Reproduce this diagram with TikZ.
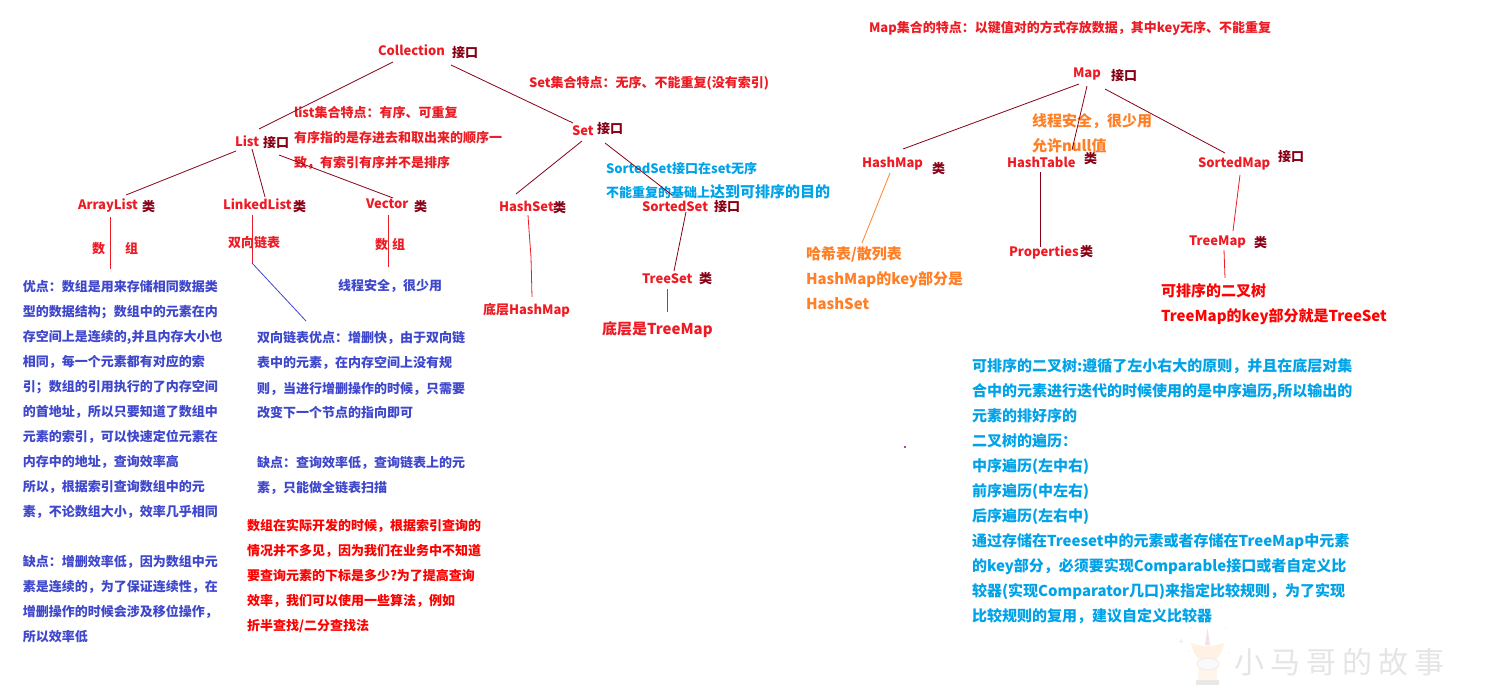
\documentclass[tikz,border=0pt]{standalone}
\usepackage{fontspec}
\setmainfont{Noto Sans CJK SC}
\definecolor{pred}{HTML}{ED1C24}
\definecolor{pure}{HTML}{FF0000}
\definecolor{pdark}{HTML}{880015}
\definecolor{porange}{HTML}{FF7F27}
\definecolor{pblue}{HTML}{3F48CC}
\definecolor{pcyan}{HTML}{00A2E8}
\definecolor{ppurple}{HTML}{A349A4}
\newcommand\fr{\rule{0pt}{15pt}}
\tikzset{
  every node/.style={inner sep=0pt,outer sep=0pt},
  lab/.style={anchor=base west,text=pred,font=\fontsize{13}{15}\selectfont\bfseries},
  kind/.style={anchor=west,text=pdark,font=\fontsize{13}{15}\selectfont\bfseries},
  note/.style={anchor=north west,align=left,font=\fontsize{13}{25}\selectfont\bfseries},
  bignote/.style={anchor=north west,align=left,font=\fontsize{15}{25}\selectfont\bfseries},
  oneline/.style={anchor=base west,font=\fontsize{13}{25}\selectfont\bfseries},
  thin1/.style={line width=0.8pt},
  dk/.style={thin1,draw=pdark},
  rd/.style={thin1,draw=pred},
  og/.style={thin1,draw=porange},
  bl/.style={thin1,draw=pblue}
}
\begin{document}
\begin{tikzpicture}[x=1pt,y=-1pt]
\useasboundingbox (0,0) rectangle (1508,700);
\fill[white] (0,0) rectangle (1508,700);

% main labels
\node[lab] (coll) at (378,56) {Collection};
\node[kind] (collk) at (452,52.5) {接口};
\node[lab] (list) at (235,147) {List};
\node[kind] (listk) at (263,142.5) {接口};
\node[lab] (alist) at (78,210) {ArrayList};
\node[kind] (alistk) at (142,206.5) {类};
\node[lab] (llist) at (223,210) {LinkedList};
\node[kind] (llistk) at (293,206.5) {类};
\node[lab] (vec) at (366,209) {Vector};
\node[kind] (veck) at (414,206.5) {类};
\node[lab] (setn) at (572,136) {Set};
\node[kind] (setk) at (597,128.5) {接口};
\node[lab] (hset) at (499,212) {HashSet};
\node[kind] (hsetk) at (553,207.5) {类};
\node[lab] (sset) at (642,212) {SortedSet};
\node[kind] (ssetk) at (714,206.5) {接口};
\node[lab] (tset) at (642,284) {TreeSet};
\node[kind] (tsetk) at (699,278.5) {类};
\node[lab] (map) at (1073,78) {Map};
\node[kind] (mapk) at (1111,75.5) {接口};
\node[lab] (hmap) at (862,168) {HashMap};
\node[kind] (hmapk) at (932,168.5) {类};
\node[lab] (htab) at (1007,168) {HashTable};
\node[kind] (htabk) at (1084,158.5) {类};
\node[lab] (smap) at (1198,168) {SortedMap};
\node[kind] (smapk) at (1278,156.5) {接口};
\node[lab] (tmap) at (1189,246) {TreeMap};
\node[kind] (tmapk) at (1254,242.5) {类};
\node[lab] (prop) at (1009,257) {Properties};
\node[kind] (propk) at (1080,251.5) {类};

% notes
\node[lab] (sz1) at (92,254) {数};
\node[lab] (sz2) at (125,254) {组};
\node[lab] (sll) at (228,248) {双向链表};
\node[lab] (vz1) at (375,250) {数};
\node[lab] (vz2) at (392,250) {组};
\node[note,text=pred] (lnote) at (294,103) {\fr list集合特点：有序、可重复\\有序指的是存进去和取出来的顺序一\\致，有索引有序并不是排序};
\node[lab] (snote) at (529,88) {Set集合特点：无序、不能重复(没有索引)};
\node[lab] (mnote) at (869,33) {Map集合的特点：以键值对的方式存放数据，其中key无序、不能重复};
\node[oneline,text=pcyan] (sn1) at (606,174) {SortedSet接口在set无序};
\node[oneline,text=pcyan] (sn2) at (606,198) {不能重复的基础上{\fontsize{15}{25}\selectfont 达到可排序的目的}};
\node[lab] (hbase) at (483,315) {底层HashMap};
\node[lab,font=\fontsize{15}{25}\selectfont\bfseries] (tbase) at (602,335) {底层是TreeMap};
\node[note,text=pblue] (aopt) at (23,276) {\fr 优点：数组是用来存储相同数据类\\型的数据结构；数组中的元素在内\\存空间上是连续的,并且内存大小也\\相同，每一个元素都有对应的索\\引；数组的引用执行的了内存空间\\的首地址，所以只要知道了数组中\\元素的索引，可以快速定位元素在\\内存中的地址，查询效率高\\所以，根据索引查询数组中的元\\素，不论数组大小，效率几乎相同\\[25pt]缺点：增删效率低，因为数组中元\\素是连续的，为了保证连续性，在\\增删操作的时候会涉及移位操作，\\所以效率低};
\node[note,text=pblue] (lopt) at (257,328) {\fr 双向链表优点：增删快，由于双向链\\表中的元素，在内存空间上没有规\\则，当进行增删操作的时候，只需要\\改变下一个节点的指向即可\\[25pt]缺点：查询效率低，查询链表上的元\\素，只能做全链表扫描};
\node[oneline,text=pblue] (vsafe) at (338,291) {线程安全，很少用};
\node[note,text=pure] (rnote) at (247,515) {\fr 数组在实际开发的时候，根据索引查询的\\情况并不多见，因为我们在业务中不知道\\要查询元素的下标是多少?为了提高查询\\效率，我们可以使用一些算法，例如\\折半查找/二分查找法};
\node[bignote,text=porange] (safe) at (1032,112) {\fr 线程安全，很少用\\允许null值};
\node[bignote,text=porange] (hdesc) at (806,245) {\fr 哈希表/散列表\\HashMap的key部分是\\HashSet};
\node[bignote,text=pure!92!pred] (tdesc) at (1161,282) {\fr 可排序的二叉树\\TreeMap的key部分就是TreeSet};
\node[bignote,text=pcyan] (tree) at (972,356) {\fr 可排序的二叉树:遵循了左小右大的原则，并且在底层对集\\合中的元素进行迭代的时候使用的是中序遍历,所以输出的\\元素的排好序的\\二叉树的遍历：\\中序遍历(左中右)\\前序遍历(中左右)\\后序遍历(左右中)\\通过存储在Treeset中的元素或者存储在TreeMap中元素\\的key部分，必须要实现Comparable接口或者自定义比\\较器(实现Comparator几口)来指定比较规则，为了实现\\比较规则的复用，建议自定义比较器};

% connectors
\draw[dk] ([shift={(15,6)}]coll.base west) -- ([shift={(24,-18)}]list.base west);
\draw[dk] ([shift={(73,9)}]coll.base west) -- ([shift={(1,-13)}]setn.base west);
\draw[dk] ([shift={(1,4)}]list.base west) -- ([shift={(48,-15)}]alist.base west);
\draw[dk] ([shift={(17,2)}]list.base west) -- ([shift={(42,-13)}]llist.base west);
\draw[dk] ([shift={(44,8)}]list.base west) -- ([shift={(27,-11)}]vec.base west);
\draw[rd] ([shift={(32,7)}]alist.base west) -- ([shift={(87,-7)}]aopt.north west);
\coordinate (lk) at (252,263);
\draw[rd] ([shift={(29,5)}]llist.base west) -- (lk);
\draw[bl] (lk) -- ([shift={(49,-7)}]lopt.north west);
\draw[rd] ([shift={(22,6)}]vec.base west) -- ([shift={(50,-24)}]vsafe.base west);
\draw[dk] ([shift={(10,5)}]setn.base west) -- ([shift={(17,-18)}]hset.base west);
\draw[dk] ([shift={(33,7)}]setn.base west) -- ([shift={(30,-17)}]sset.base west);
\draw[rd] ([shift={(29,3)}]hset.base west) -- ([shift={(30,18)}]hset.base west) -- ([shift={(32,45)}]hset.base west) -- ([shift={(49,-18)}]hbase.base west);
\draw[dk] ([shift={(44,0)}]sset.base west) -- ([shift={(32,-13)}]tset.base west);
\draw[rd] ([shift={(25,5)}]tset.base west) -- ([shift={(65,-23)}]tbase.base west);
\draw[dk] ([shift={(6,6)}]map.base west) -- ([shift={(41,-19)}]hmap.base west);
\draw[dk] ([shift={(14,8)}]map.base west) -- ([shift={(65,-18)}]htab.base west);
\draw[dk] ([shift={(32,11)}]map.base west) -- ([shift={(27,-15)}]smap.base west);
\draw[og] ([shift={(28,5)}]hmap.base west) -- ([shift={(56,-2)}]hdesc.north west);
\draw[dk] ([shift={(33,4)}]htab.base west) -- ([shift={(31,-10)}]prop.base west);
\draw[rd] ([shift={(42,7)}]smap.base west) -- ([shift={(44,-15)}]tmap.base west);
\draw[rd] ([shift={(35,4)}]tmap.base west) -- ([shift={(64,-4)}]tdesc.north west);

% stray dot
\fill[ppurple] (904,446.5) rectangle (906,448.5);

% watermark logo
\fill[violet!12] (1205,645) -- (1207.5,628) -- (1210,645) -- cycle;
\fill[orange!10] (1191,643) .. controls (1197,645) and (1201,646) .. (1207,646) .. controls (1213,646) and (1218,645) .. (1224,643) .. controls (1223,650) and (1220,655) .. (1217,659) -- (1198,659) .. controls (1195,655) and (1192,650) .. (1191,643) -- cycle;
\fill[orange!8] (1198,668) rectangle (1217,681);
\fill[black!2] (1208,664) ellipse (11 and 6);
\draw[black!9,line width=0.6pt] (1208,664) ellipse (11 and 6);
\fill[black!9] (1196,680) rectangle (1219,685);
\draw[black!8,line width=0.6pt] (1181,639) -- (1181,643) (1179,641) -- (1183,641);
\fill[black!6] (1191,628) circle (0.8) (1189,651) circle (0.8) (1229,653) circle (0.8);
\fill[cyan!8] (1225,628) circle (0.8) (1234,632) circle (0.8);

\node[anchor=base west,text=black!10,font=\fontsize{30}{36}\selectfont] (wm) at (1234,673) {\addfontfeature{LetterSpace=20}小马哥的故事};
\end{tikzpicture}
\end{document}
